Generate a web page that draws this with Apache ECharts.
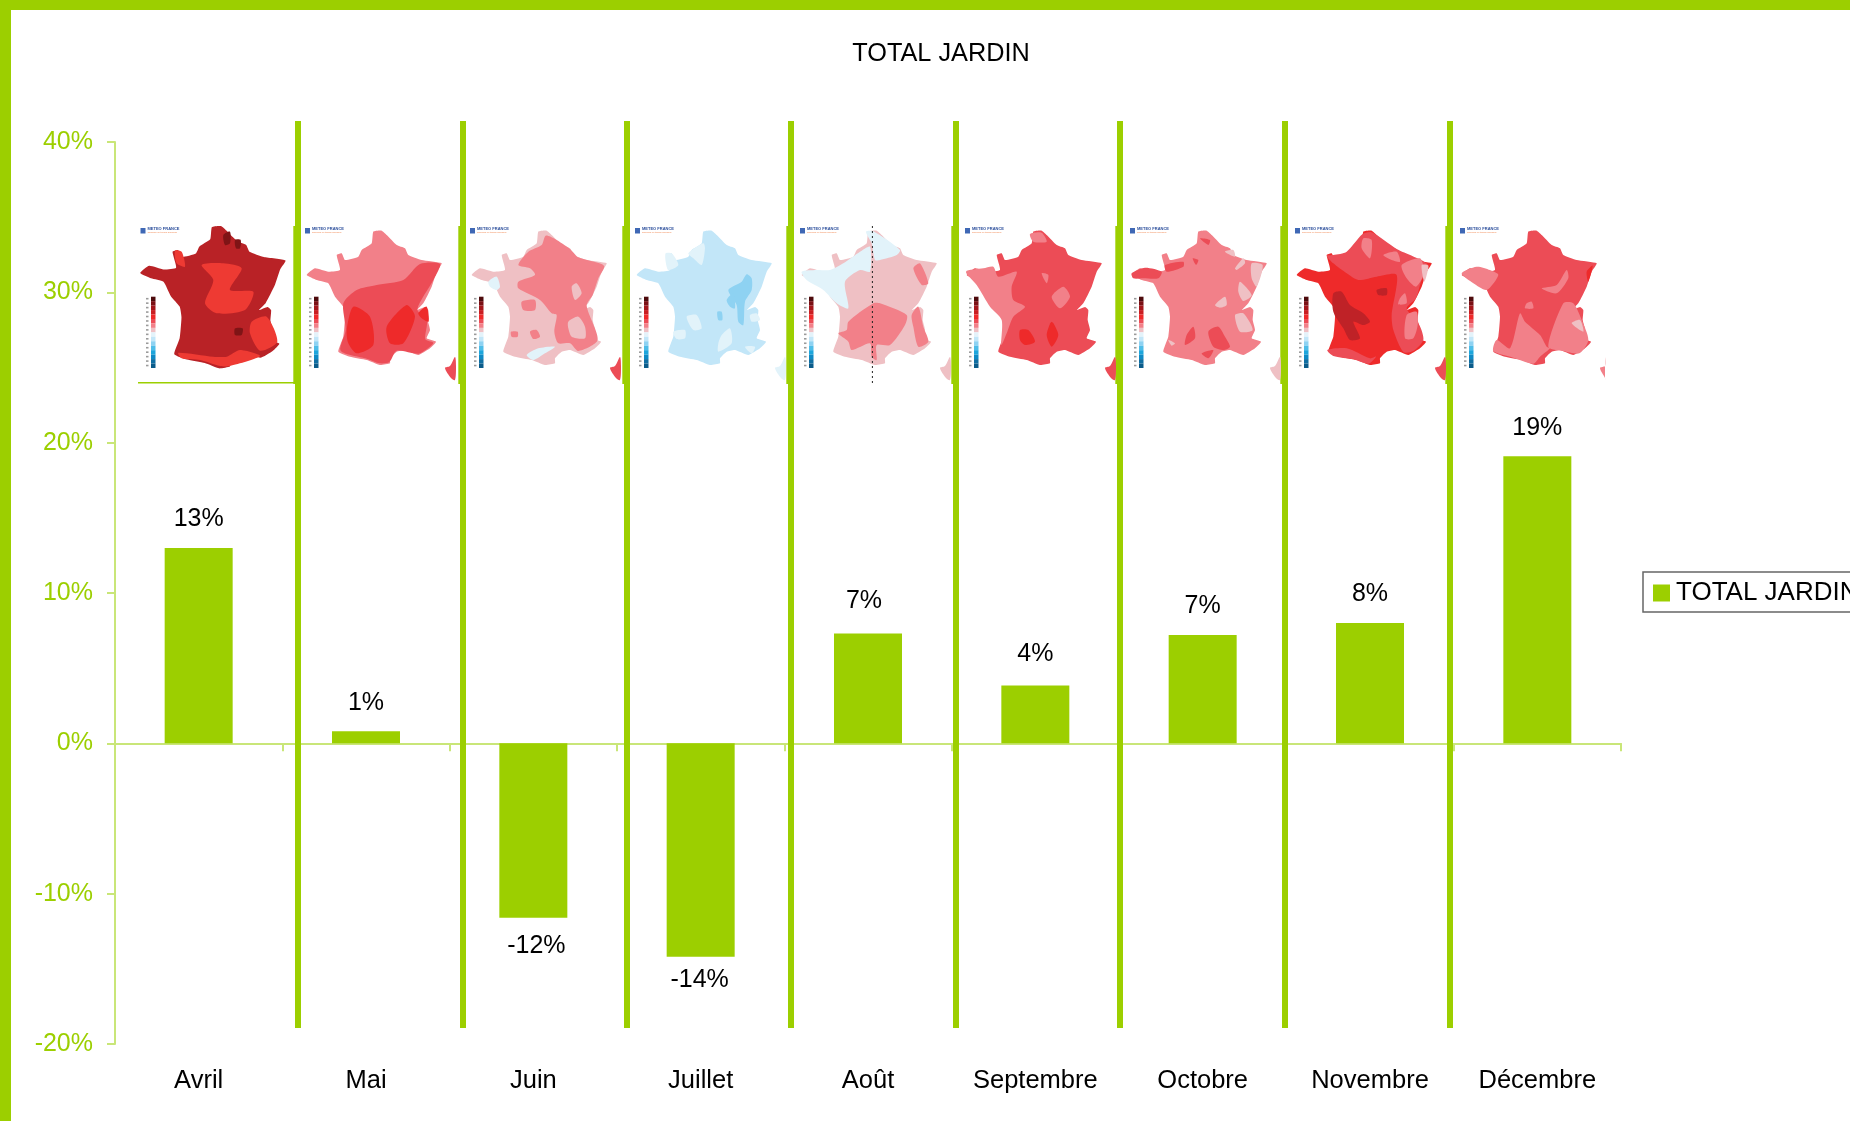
<!DOCTYPE html>
<html>
<head>
<meta charset="utf-8">
<title>TOTAL JARDIN</title>
<script src="https://cdn.jsdelivr.net/npm/echarts@6/dist/echarts.min.js"></script>
<style>html,body{margin:0;padding:0;background:#fff;overflow:hidden}#c{width:1850px;height:1121px}</style>
</head>
<body>
<div id="c"></div>
<script>
// ---- chart data ----
const categories = ['Avril','Mai','Juin','Juillet','Août','Septembre','Octobre','Novembre','Décembre'];
const seriesName = 'TOTAL JARDIN';
const values = [13.0, 0.8, -11.6, -14.2, 7.3, 3.85, 7.2, 8.0, 19.1];
const yMin = -20, yMax = 40, yStep = 10;

// ---- styles ----
const GREEN = '#9ccf00', AXIS = '#c9e678', FONT = '"Liberation Sans", Arial, sans-serif';
const RED3 = '#bf2227', RED2 = '#ee2a2a', RED1 = '#ec4c56', PINK = '#f28089', ROSE = '#efc0c4',
      ICE = '#e2f3fa', SKY = '#c2e6f8', BLUE = '#8ed2f2';
// small nudges [x, y] of each value label, in px
const labelNudges = [[0,0],[0,0],[3,0],[-1,-5],[-4,-4],[0,-3],[0,0],[0,0],[0,0]];
const separators = [298, 463, 627, 791, 956, 1120, 1285, 1450];
const mapOrigins = [139.5, 304, 469, 634, 799, 964, 1129, 1294, 1459];
const scaleColors = ['#4d0a0c','#7a1015','#a3161b','#c91e22','#ee2a2a','#ec4c56','#f28089','#efc0c4',
                     '#e4f3fa','#c2e6f8','#8ed2f2','#4fbde8','#1ea6dc','#0f8ac4','#0f6fa3','#0b5c8a'];
// decorative France outline, local to a map tile
const outline = [69.3,5.7,77.7,4.7,82.7,9,92.7,19,101,22.3,104.3,29,117.7,34,137.7,37.3,132.7,45.7,127.7,60.7,119.3,77.3,113,84,121,81,124.3,84,123.7,94,126,104,122.7,112.3,132,115.7,126,122.3,114.3,129,101,124,92.7,125.7,86,132.3,86,137.3,76,139,62.7,134,46,130.7,34.3,125.7,39.3,110.7,41,90.7,39.3,80.7,31,70.7,24.3,57.3,12.7,54,2.7,49,11,42.3,24.3,45.7,36,44,32.7,29,37.7,27.3,41,34,54.3,30.7,57.7,24,67.7,17.3];
const corsicaShape = [146,140,151,131,152,140,151,154,147,152,141,142];
// decorative map tiles: zones are given in a 3x view anchored at view=[x,y]
const maps = [
 {view:[0,100], base:'#b92226', corsica:null, zones:[
  ['#ee3a33',[605,495,670,490,725,505,690,570,760,575,735,630,650,640,615,610,640,540]],
  ['#ee3a33',[755,665,800,650,832,725,780,752,750,700]],
  ['#ee3a33',[535,758,640,770,680,770,720,750,780,768,690,798,660,798,600,780,545,775]],
  ['#ee3a33',[525,452,545,455,555,500,530,490]],
  ['#7f1416',[670,405,690,395,690,430,675,435]],
  ['#7f1416',[705,420,722,420,720,445,708,445]],
  ['#7f1416',[705,685,728,685,725,705,705,705]]]},
 {view:[0,100], base:PINK, corsica:RED1, zones:[
  [RED1,[1030,610,1070,570,1130,555,1210,540,1260,492,1320,492,1300,540,1252,628,1281,660,1276,718,1300,728,1286,743,1255,761,1190,752,1168,786,1140,790,1100,776,1022,752,1037,690]],
  [RED2,[1040,690,1060,620,1110,650,1120,735,1070,760,1045,730]],
  [RED2,[1160,680,1220,615,1245,650,1210,730,1170,730]],
  [RED2,[1255,640,1280,620,1286,665,1265,655]]]},
 {view:[455,215], base:ROSE, corsica:RED1, zones:[
  [PINK,[272,62,300,72,345,102,370,127,447,152,430,190,413,240,395,272,428,375,370,408,345,385,310,385,298,350,305,300,290,295,255,255,190,220,190,200,240,180,225,160,190,150,220,110,260,90]],
  [ROSE,[340,320,370,305,390,335,390,370,350,365,340,340]],
  [ROSE,[350,215,365,205,380,235,360,255]],
  [ICE,[100,200,125,185,135,215,125,225,105,215]],
  [ICE,[215,420,250,400,300,395,270,415,235,435]],
  [PINK,[225,350,245,345,255,365,235,372]],
  [PINK,[168,350,188,350,188,365,170,365]],
  [PINK,[200,260,240,255,240,285,205,285]]]},
 {view:[455,215], base:SKY, corsica:ICE, zones:[
  [BLUE,[875,178,890,190,890,225,870,260,865,330,850,320,845,270,820,225,860,200]],
  [BLUE,[815,255,835,235,840,280,825,275]],
  [BLUE,[787,290,800,290,802,315,790,315]],
  [ICE,[700,115,745,85,750,100,740,150,715,130]],
  [ICE,[632,115,650,115,670,150,640,165,632,140]],
  [ICE,[800,360,825,340,830,385,790,410,790,385]],
  [ICE,[695,305,725,300,740,340,715,345]],
  [ICE,[655,350,690,345,690,370,665,372]],
  [ICE,[870,395,900,395,890,415]],
  [ICE,[885,300,905,295,915,315,890,320]]]},
 {view:[780,210], base:ROSE, corsica:ROSE, zones:[
  [ICE,[65,185,110,180,150,180,190,160,240,125,270,110,270,185,240,180,195,215,205,295,170,280,130,240,80,210]],
  [ICE,[258,65,280,64,360,120,350,135,300,150,285,150,275,100]],
  [PINK,[175,370,200,360,205,335,280,280,300,280,380,315,375,345,330,405,290,405,290,450,275,440,270,400,215,420,205,395]],
  [PINK,[395,315,415,290,430,350,445,395,415,410,400,350]],
  [PINK,[400,175,420,160,445,220,425,225]]]},
 {view:[780,210], base:RED1, corsica:RED1, zones:[
  [PINK,[558,185,610,175,640,170,655,200,710,185,695,230,700,270,735,290,700,320,680,370,664,405,665,330,630,290,590,225]],
  [RED2,[720,360,745,360,765,395,735,405,720,390]],
  [RED2,[800,375,815,335,835,375,815,410]],
  [PINK,[750,72,785,68,800,95,760,95]],
  [PINK,[815,260,850,230,870,260,840,295]],
  [PINK,[785,190,805,195,800,220]]]},
 {view:[1120,215], base:PINK, corsica:ROSE, zones:[
  [RED1,[35,175,75,158,125,170,115,190,70,190,40,190]],
  [RED1,[135,150,190,140,190,155,140,170]],
  [RED1,[265,350,295,335,315,365,330,395,310,405,280,395]],
  [RED1,[200,360,220,335,225,370,195,390]],
  [RED1,[245,415,280,405,265,430]],
  [RED1,[240,70,270,75,265,90]],
  [RED1,[218,130,235,135,228,150]],
  [ROSE,[395,145,428,150,410,215,395,190]],
  [ROSE,[345,160,370,130,375,145,350,165]],
  [ROSE,[360,200,395,240,370,258,355,230]],
  [ROSE,[285,270,315,245,320,270,300,278]],
  [ROSE,[345,300,370,295,398,345,360,350]],
  [ROSE,[315,110,340,105,345,125]],
  [ROSE,[145,375,165,385,155,392]]]},
 {view:[1120,215], base:RED2, corsica:RED1, zones:[
  [RED1,[727,58,755,52,830,102,925,150,903,200,888,250,860,280,898,330,910,375,880,408,850,411,820,345,815,300,830,180,770,185,715,195,680,175,640,145,620,122,640,120,680,110]],
  [RED1,[622,405,680,400,750,430,768,425,745,446,700,433,640,423]],
  [PINK,[730,70,755,75,750,130,725,100]],
  [PINK,[845,150,900,130,912,175,888,215,860,190]],
  [PINK,[790,120,830,110,840,140,815,135]],
  [PINK,[840,250,855,235,860,265,835,268]],
  [PINK,[860,300,890,290,893,330,880,370,855,370]],
  [ROSE,[905,150,925,152,913,200]],
  [RED3,[640,235,665,230,690,270,730,295,750,320,730,330,700,320,720,370,690,375,670,340,640,290]],
  [RED3,[770,225,800,220,800,240,775,240]]]},
 {view:[1120,215], base:RED1, corsica:PINK, zones:[
  [PINK,[1025,175,1070,155,1110,165,1135,180,1100,225,1060,205]],
  [PINK,[1120,408,1130,375,1170,400,1200,295,1215,320,1260,360,1280,395,1290,400,1260,425,1240,446,1180,428]],
  [PINK,[1285,395,1330,265,1360,265,1383,310,1405,375,1378,415,1330,408]],
  [ROSE,[1355,325,1380,315,1390,350]],
  [RED2,[1400,170,1418,152,1405,200]],
  [PINK,[1265,220,1310,210,1340,165,1345,190,1310,235]],
  [PINK,[1220,265,1235,260,1240,280,1215,280]]]}
];

// ---- decorative elements drawn with the library's graphic layer ----
function rect(x, y, w, h, fill, z) {
  return {type:'rect', silent:true, z:z||6, shape:{x:x, y:y, width:w, height:h}, style:{fill:fill}};
}
function poly(flat, fx, fy, fill, smooth, z) {
  const pts = [];
  for (let i = 0; i < flat.length; i += 2) pts.push([fx(flat[i]), fy(flat[i+1])]);
  return {type:'polygon', silent:true, z:z, shape:{points:pts, smooth:smooth}, style:{fill:fill}};
}
const graphics = [rect(0,0,1850,10,GREEN), rect(0,0,11,1121,GREEN)];
separators.forEach(x => {
  graphics.push(rect(x-3,121,6,907,GREEN,7));
  graphics.push(rect(x-4.7,226,2,158,GREEN,7));
});
graphics.push(rect(138,382,157,1.5,GREEN,7));
maps.forEach((m,i) => {
  const o = mapOrigins[i];
  const first = i === 0;
  const lx = first ? (v => o + (v-2)*1.076) : (v => o + v);
  const ly = first ? (v => 226 + (v-4.7)*1.06) : (v => 226 + v);
  graphics.push(poly(outline, lx, ly, m.base, 0.15, 8));
  m.zones.forEach(zn => {
    graphics.push(poly(zn[1], v => m.view[0]+v/3, v => m.view[1]+v/3, zn[0], 0.25, 9));
  });
  if (m.corsica) {
    const limit = i === 8 ? 146 : 152;
    graphics.push(poly(corsicaShape, v => o + Math.min(v,limit), v => 226 + v, m.corsica, 0.3, 8));
  }
  // colour scale
  const sx = first ? o + 11.5 : o + 10, sy = 296.7, sh = 71.3 / scaleColors.length;
  scaleColors.forEach((c,k) => {
    graphics.push(rect(sx, sy + k*sh, 4.5, sh, c, 8));
    graphics.push(rect(sx-5, sy + k*sh + 1.2, 2.5, 1.6, '#9a9a9a', 8));
  });
  // logo
  graphics.push(rect(o+1, 228, 5, 5.5, '#3f68b5', 8));
  graphics.push({type:'text', silent:true, z:8, style:{x:o+8, y:227, text:'METEO FRANCE', fill:'#2c4f9c',
    font:'bold 4px ' + FONT}});
  graphics.push({type:'text', silent:true, z:8, style:{x:o+8, y:231.4, text:'Toujours un temps d\'avance', fill:'#f0824a',
    font:'2.4px ' + FONT}});
});
// dotted line across the August map
graphics.push({type:'line', silent:true, z:10, shape:{x1:872.4,y1:226,x2:872.4,y2:384},
  style:{stroke:'#222', lineWidth:1, lineDash:[2,3]}});

const chart = echarts.init(document.getElementById('c'), null, {renderer:'canvas', width:1850, height:1121});
chart.setOption({
  animation:false,
  backgroundColor:'#fff',
  title:{text:seriesName, left:936, top:37, textAlign:'center',
    textStyle:{color:'#000', fontFamily:FONT, fontSize:25.3, fontWeight:'normal'}},
  legend:{left:1643, top:572, orient:'horizontal', padding:[8,10,6,10], itemWidth:17, itemHeight:17, itemGap:6,
    borderColor:'#666', borderWidth:1.5, borderRadius:0, selectedMode:false, icon:'rect',
    data:[seriesName], textStyle:{color:'#000', fontFamily:FONT, fontSize:26, padding:[0,0,6,1]}},
  grid:{left:115, right:229, top:142, bottom:77, containLabel:false, outerBoundsMode:'none'},
  xAxis:[
    {type:'category', data:categories, position:'bottom',
     axisLine:{show:false, onZero:false}, axisTick:{show:false},
     axisLabel:{color:'#000', fontFamily:FONT, fontSize:25.5, margin:24, interval:0}},
    {type:'category', data:categories, position:'top',
     axisLine:{onZero:true, lineStyle:{color:AXIS, width:2}},
     axisTick:{show:true, inside:true, length:8, lineStyle:{color:AXIS, width:2}},
     axisLabel:{show:false}}
  ],
  yAxis:{type:'value', min:yMin, max:yMax, interval:yStep,
    splitLine:{show:false},
    axisLine:{show:true, lineStyle:{color:AXIS, width:2}},
    axisTick:{show:true, length:8, lineStyle:{color:AXIS, width:2}},
    axisLabel:{color:GREEN, fontFamily:FONT, fontSize:25, margin:22, formatter:'{value}%'}},
  series:[{
    name:seriesName, type:'bar', xAxisIndex:0, barWidth:68, itemStyle:{color:GREEN},
    data:values.map((v,i) => ({value:v, label:{offset:labelNudges[i], position: v < 0 ? 'bottom' : 'top'}})),
    label:{show:true, distance:16, color:'#000', fontFamily:FONT, fontSize:25,
      formatter:p => Math.round(p.value) + '%'}
  }],
  graphic:{elements:graphics}
});
</script>
</body>
</html>
